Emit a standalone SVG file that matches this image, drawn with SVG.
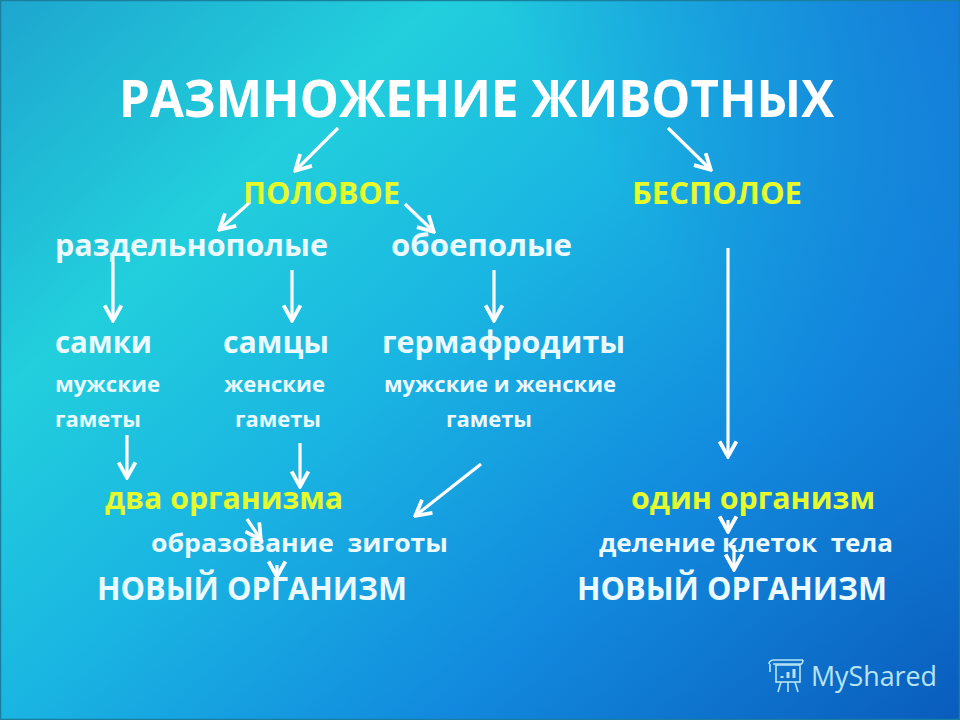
<svg xmlns="http://www.w3.org/2000/svg" width="960" height="720" viewBox="0 0 960 720">
<defs>
<linearGradient id="bg" gradientUnits="userSpaceOnUse" x1="0" y1="0" x2="787" y2="875">
<stop offset="0" stop-color="#1ea6cf"/><stop offset="0.25" stop-color="#22cfdc"/><stop offset="0.45" stop-color="#1ab6e2"/><stop offset="0.7" stop-color="#128ade"/><stop offset="1" stop-color="#0a5cbc"/>
</linearGradient>
<linearGradient id="tr" gradientUnits="userSpaceOnUse" x1="960" y1="0" x2="640" y2="220">
<stop offset="0" stop-color="#1478d8" stop-opacity="0.9"/><stop offset="1" stop-color="#1478d8" stop-opacity="0"/>
</linearGradient>
<marker id="ah" viewBox="0 0 10 10" refX="9" refY="5" markerWidth="20" markerHeight="20" markerUnits="userSpaceOnUse" orient="auto">
<path d="M1.2 0.8L8.8 5L1.2 9.2" fill="none" stroke="#fff" stroke-width="1.9"/>
</marker>
</defs>
<style>
text{font-family:"Open Sans","Liberation Sans",sans-serif;font-weight:700;fill:#fff}
.y{fill:#e6fb2c}.w{fill:#eafaff}
.a{stroke:#fff;stroke-width:3.2;fill:none;marker-end:url(#ah)}
</style>
<rect width="960" height="720" fill="url(#bg)"/>
<rect width="960" height="720" fill="url(#tr)"/>
<rect x="0.5" y="0.5" width="959" height="719" fill="none" stroke="#1a7f9c" stroke-width="1.5"/>
<g id="title"><text x="119" y="117" font-size="52" textLength="715" lengthAdjust="spacingAndGlyphs">РАЗМНОЖЕНИЕ ЖИВОТНЫХ</text></g>
<g id="n-polovoe"><text class="y" x="243" y="204" font-size="30" textLength="157" lengthAdjust="spacingAndGlyphs">ПОЛОВОЕ</text></g>
<g id="n-bespoloe"><text class="y" x="632" y="204" font-size="30" textLength="170" lengthAdjust="spacingAndGlyphs">БЕСПОЛОЕ</text></g>
<g id="n-razd"><text class="w" x="55" y="256" font-size="30" textLength="273" lengthAdjust="spacingAndGlyphs">раздельнополые</text></g>
<g id="n-oboe"><text class="w" x="391" y="256" font-size="30" textLength="181" lengthAdjust="spacingAndGlyphs">обоеполые</text></g>
<g id="n-samki"><text class="w" x="55" y="353" font-size="30" textLength="97" lengthAdjust="spacingAndGlyphs">самки</text></g>
<g id="n-samcy"><text class="w" x="223" y="353" font-size="30" textLength="106" lengthAdjust="spacingAndGlyphs">самцы</text></g>
<g id="n-germ"><text class="w" x="382" y="353" font-size="30" textLength="243" lengthAdjust="spacingAndGlyphs">гермафродиты</text></g>
<g id="n-g1"><text class="w" x="55" y="392" font-size="22" textLength="105" lengthAdjust="spacingAndGlyphs">мужские</text><text class="w" x="55" y="427" font-size="22" textLength="86" lengthAdjust="spacingAndGlyphs">гаметы</text></g>
<g id="n-g2"><text class="w" x="224" y="392" font-size="22" textLength="101" lengthAdjust="spacingAndGlyphs">женские</text><text class="w" x="235" y="427" font-size="22" textLength="86" lengthAdjust="spacingAndGlyphs">гаметы</text></g>
<g id="n-g3"><text class="w" x="384" y="392" font-size="22" textLength="232" lengthAdjust="spacingAndGlyphs">мужские и женские</text><text class="w" x="446" y="427" font-size="22" textLength="86" lengthAdjust="spacingAndGlyphs">гаметы</text></g>
<g id="n-dva"><text class="y" x="105" y="509" font-size="30" textLength="238" lengthAdjust="spacingAndGlyphs">два организма</text></g>
<g id="n-odin"><text class="y" x="631" y="509" font-size="30" textLength="244" lengthAdjust="spacingAndGlyphs">один организм</text></g>
<g id="n-obr"><text class="w" x="151" y="552" font-size="25" textLength="297" lengthAdjust="spacingAndGlyphs" xml:space="preserve">образование  зиготы</text></g>
<g id="n-del"><text class="w" x="599" y="552" font-size="25" textLength="294" lengthAdjust="spacingAndGlyphs" xml:space="preserve">деление клеток  тела</text></g>
<g id="n-new1"><text class="w" x="97" y="600" font-size="33" textLength="310" lengthAdjust="spacingAndGlyphs">НОВЫЙ ОРГАНИЗМ</text></g>
<g id="n-new2"><text class="w" x="577" y="600" font-size="33" textLength="310" lengthAdjust="spacingAndGlyphs">НОВЫЙ ОРГАНИЗМ</text></g>
<g id="connectors">
<path class="a" d="M338 128L295 171"/>
<path class="a" d="M668 128L711 170"/>
<path class="a" d="M249 203L219 230"/>
<path class="a" d="M405 204L434 232"/>
<path class="a" d="M113 262V321"/>
<path class="a" d="M292 270V321"/>
<path class="a" d="M494 270V321"/>
<path class="a" d="M728 248V457"/>
<path class="a" d="M127 435V478"/>
<path class="a" d="M300 443V487"/>
<path class="a" d="M481 464L415 516"/>
<path class="a" d="M247 519L261 540"/>
<path class="a" d="M277 565V577"/>
<path class="a" d="M728 520V532"/>
<path class="a" d="M734 545V570"/>
</g>
<g id="logo" fill="none" stroke="#b8e4f4" stroke-width="1.6">
<path d="M773 660H803M770 664V672M773 660Q769 661 769 664M803 660Q803 665 799 664H773"/>
<rect x="776" y="665" width="24" height="17"/>
<path d="M781 682L778 692M788 682V692M795 682L798 692"/>
<path d="M782 678V676M788 678V672M794 678V669" stroke-width="3"/>
<text x="811" y="686" font-size="28" style="font-weight:400;fill:#b8e4f4;stroke:none" textLength="126" lengthAdjust="spacingAndGlyphs">MyShared</text>
</g>
</svg>
